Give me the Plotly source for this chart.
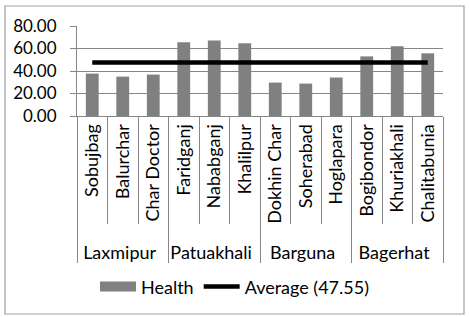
import plotly.graph_objects as go

regions = ["Laxmipur", "Laxmipur", "Laxmipur",
           "Patuakhali", "Patuakhali", "Patuakhali",
           "Barguna", "Barguna", "Barguna",
           "Bagerhat", "Bagerhat", "Bagerhat"]
places = ["Sobujbag", "Balurchar", "Char Doctor",
          "Faridganj", "Nababganj", "Khalilpur",
          "Dokhin Char", "Soherabad", "Hoglapara",
          "Bogibondor", "Khuriakhali", "Chalitabunia"]
health = [37.7, 35.0, 36.8, 65.5, 67.2, 64.6, 29.7, 28.8, 34.2, 53.0, 62.0, 55.7]
average = 47.55
y_ticks = [0, 20, 40, 60, 80]

W, H = 469, 317
ml, mr, mt, mb = 77, 26, 26, 201
pw, ph = W - ml - mr, H - mt - mb

FONT = "Lato"
TXT = "#000000"
GRID = "#868686"

fig = go.Figure()
fig.add_trace(go.Bar(x=[regions, places], y=health, marker_color="#808080",
                     marker_line_width=0, showlegend=False, name="Health"))
fig.add_trace(go.Scatter(x=[regions, places], y=[average] * len(places), mode="lines",
                         line=dict(color="#000000", width=4.5), showlegend=False))
# legend entries
fig.add_trace(go.Scatter(x=[None], y=[None], mode="lines", name="Health",
                         line=dict(color="#808080", width=10)))
fig.add_trace(go.Scatter(x=[None], y=[None], mode="lines", name="Average (%.2f)" % average,
                         line=dict(color="#000000", width=4.5)))

fig.update_layout(
    width=W, height=H,
    margin=dict(l=ml, r=mr, t=mt, b=mb, autoexpand=False),
    paper_bgcolor="white", plot_bgcolor="white",
    font=dict(family=FONT, size=18, color=TXT),
    bargap=0.58,
    hovermode=False,
    legend=dict(orientation="h", xref="container", yref="container",
                x=0.5, xanchor="center", y=0.095, yanchor="middle",
                font=dict(size=18), itemwidth=36, tracegroupgap=0),
    shapes=[dict(type="rect", xref="paper", yref="paper",
                 x0=(5 - ml) / pw, x1=(464 - ml) / pw,
                 y0=(H - mb - 314) / ph, y1=(H - mb - 6) / ph,
                 line=dict(color="#a0a0a0", width=1.2), fillcolor="rgba(0,0,0,0)", layer="below")],
)
fig.update_xaxes(type="multicategory", tickangle=-90, showline=True, linecolor=GRID,
                 ticks="outside", ticklen=107, tickcolor=GRID, tickwidth=1,
                 showdividers=True, dividercolor=GRID, dividerwidth=1, automargin=False,
                 showgrid=False, tickfont=dict(size=18, color=TXT))
fig.update_yaxes(range=[0, 80], tickvals=y_ticks, tickformat=".2f", showgrid=True,
                 gridcolor=GRID, gridwidth=1, showline=True, linecolor=GRID,
                 ticks="outside", ticklen=6, tickcolor=GRID, ticklabelstandoff=10,
                 zeroline=False, automargin=False, tickfont=dict(size=17, color=TXT))

fig.write_html("out.html", config={"displayModeBar": False},
               post_script="document.body.style.margin='0';document.body.style.overflow='hidden';")
